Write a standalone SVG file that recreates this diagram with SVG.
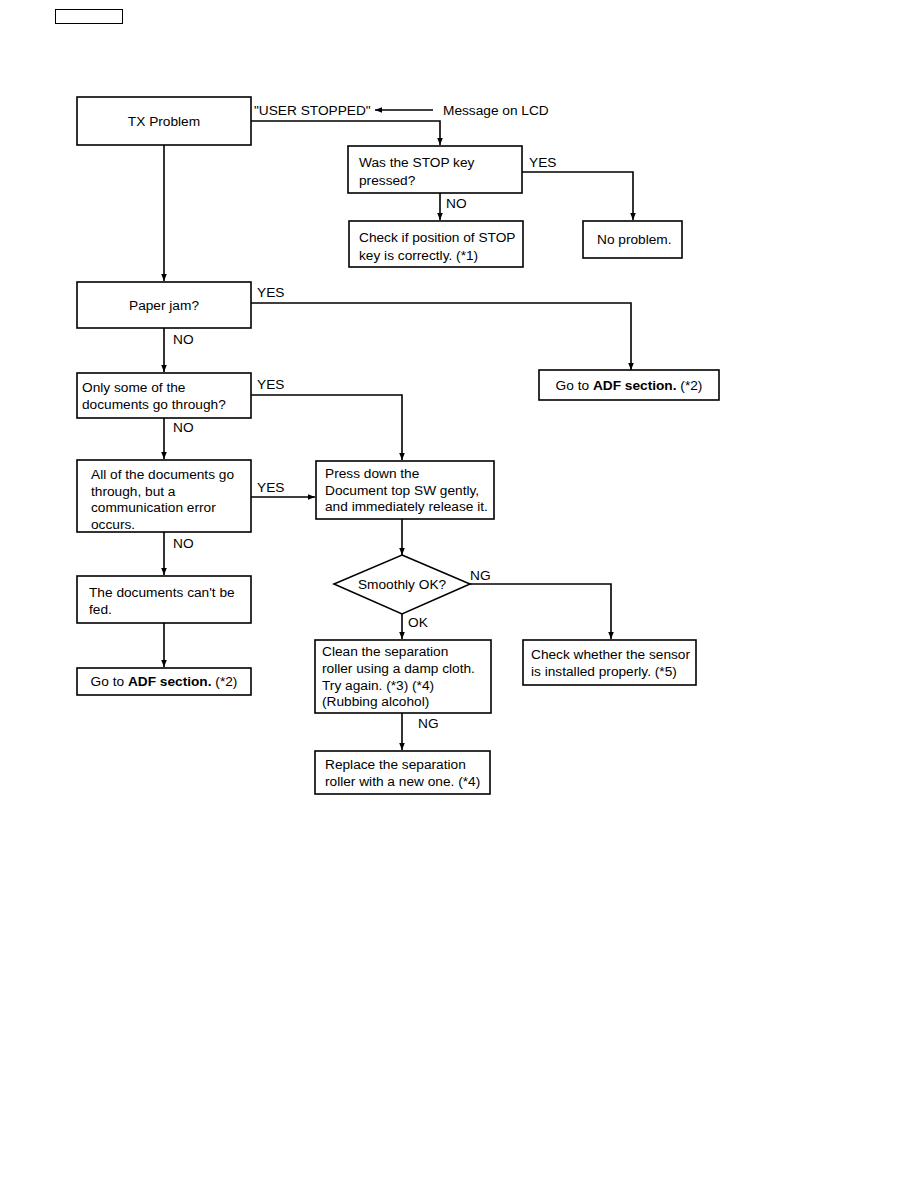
<svg xmlns="http://www.w3.org/2000/svg" width="918" height="1188" viewBox="0 0 918 1188">
<style>
.b{fill:#fff;stroke:#000;stroke-width:1.6}
.c{fill:none;stroke:#000;stroke-width:1.6}
text{font-family:"Liberation Sans",Arial,sans-serif;font-size:13.7px;fill:#000}
.m{text-anchor:middle}
.bd{font-weight:bold}
</style>
<defs>
<marker id="a" viewBox="0 0 10 10" refX="10" refY="5" markerWidth="7" markerHeight="7" markerUnits="userSpaceOnUse" orient="auto"><path d="M0,1 L10,5 L0,9 z" fill="#000"/></marker>
</defs>
<rect x="0" y="0" width="918" height="1188" fill="#fff"/>
<rect x="55.5" y="9.5" width="67" height="14" fill="none" stroke="#000" stroke-width="1"/>
<g id="connectors">
<path class="c" d="M251,121 H440 V145" marker-end="url(#a)"/>
<path class="c" d="M433,110 H375" marker-end="url(#a)"/>
<path class="c" d="M522,172 H633 V220" marker-end="url(#a)"/>
<path class="c" d="M440,193 V220" marker-end="url(#a)"/>
<path class="c" d="M164,145 V281" marker-end="url(#a)"/>
<path class="c" d="M251,303 H631 V370" marker-end="url(#a)"/>
<path class="c" d="M164,328 V372" marker-end="url(#a)"/>
<path class="c" d="M251,395 H402 V460" marker-end="url(#a)"/>
<path class="c" d="M164,418 V459" marker-end="url(#a)"/>
<path class="c" d="M251,497 H315" marker-end="url(#a)"/>
<path class="c" d="M402,519 V555" marker-end="url(#a)"/>
<path class="c" d="M470,584 H611 V639" marker-end="url(#a)"/>
<path class="c" d="M402,614 V639" marker-end="url(#a)"/>
<path class="c" d="M402,713 V750" marker-end="url(#a)"/>
<path class="c" d="M164,532 V575" marker-end="url(#a)"/>
<path class="c" d="M164,623 V667" marker-end="url(#a)"/>
</g>
<g id="labels">
<text x="254" y="115">"USER STOPPED"</text>
<text x="443" y="115">Message on LCD</text>
<text x="529" y="167">YES</text>
<text x="446" y="208">NO</text>
<text x="257" y="297">YES</text>
<text x="173" y="344">NO</text>
<text x="257" y="389">YES</text>
<text x="173" y="432">NO</text>
<text x="257" y="492">YES</text>
<text x="173" y="548">NO</text>
<text x="470" y="580">NG</text>
<text x="408" y="627">OK</text>
<text x="418" y="728">NG</text>
</g>
<g id="n-tx"><rect class="b" x="77" y="97" width="174" height="48"/><text class="m" x="164" y="126">TX Problem</text></g>
<g id="n-stop"><rect class="b" x="348" y="146" width="174" height="47"/><text x="359" y="167">Was the STOP key</text><text x="359" y="185">pressed?</text></g>
<g id="n-noprob"><rect class="b" x="583" y="221" width="99" height="37"/><text x="597" y="244">No problem.</text></g>
<g id="n-check"><rect class="b" x="349" y="221" width="174" height="46"/><text x="359" y="242">Check if position of STOP</text><text x="359" y="260">key is correctly. (*1)</text></g>
<g id="n-jam"><rect class="b" x="77" y="282" width="174" height="46"/><text class="m" x="164" y="310">Paper jam?</text></g>
<g id="n-adf1"><rect class="b" x="539" y="370" width="180" height="30"/><text class="m" x="629" y="390">Go to <tspan class="bd">ADF section.</tspan> (*2)</text></g>
<g id="n-some"><rect class="b" x="77" y="373" width="174" height="45"/><text x="82" y="392">Only some of the</text><text x="82" y="409">documents go through?</text></g>
<g id="n-all"><rect class="b" x="77" y="460" width="174" height="72"/><text x="91" y="479">All of the documents go</text><text x="91" y="496">through, but a</text><text x="91" y="512">communication error</text><text x="91" y="529">occurs.</text></g>
<g id="n-press"><rect class="b" x="316" y="461" width="178" height="58"/><text x="325" y="478">Press down the</text><text x="325" y="495">Document top SW gently,</text><text x="325" y="511">and immediately release it.</text></g>
<g id="n-smooth"><path class="b" d="M402,555 L470,584 L402,614 L334,584 Z"/><text class="m" x="402" y="589">Smoothly OK?</text></g>
<g id="n-clean"><rect class="b" x="315" y="640" width="176" height="73"/><text x="322" y="656">Clean the separation</text><text x="322" y="673">roller using a damp cloth.</text><text x="322" y="690">Try again. (*3) (*4)</text><text x="322" y="706">(Rubbing alcohol)</text></g>
<g id="n-replace"><rect class="b" x="315" y="751" width="175" height="43"/><text x="325" y="769">Replace the separation</text><text x="325" y="786">roller with a new one. (*4)</text></g>
<g id="n-sensor"><rect class="b" x="523" y="640" width="173" height="45"/><text x="531" y="659">Check whether the sensor</text><text x="531" y="676">is installed properly. (*5)</text></g>
<g id="n-cant"><rect class="b" x="77" y="576" width="174" height="47"/><text x="89" y="597">The documents can't be</text><text x="89" y="614">fed.</text></g>
<g id="n-adf2"><rect class="b" x="77" y="668" width="174" height="27"/><text class="m" x="164" y="686">Go to <tspan class="bd">ADF section.</tspan> (*2)</text></g>
</svg>
